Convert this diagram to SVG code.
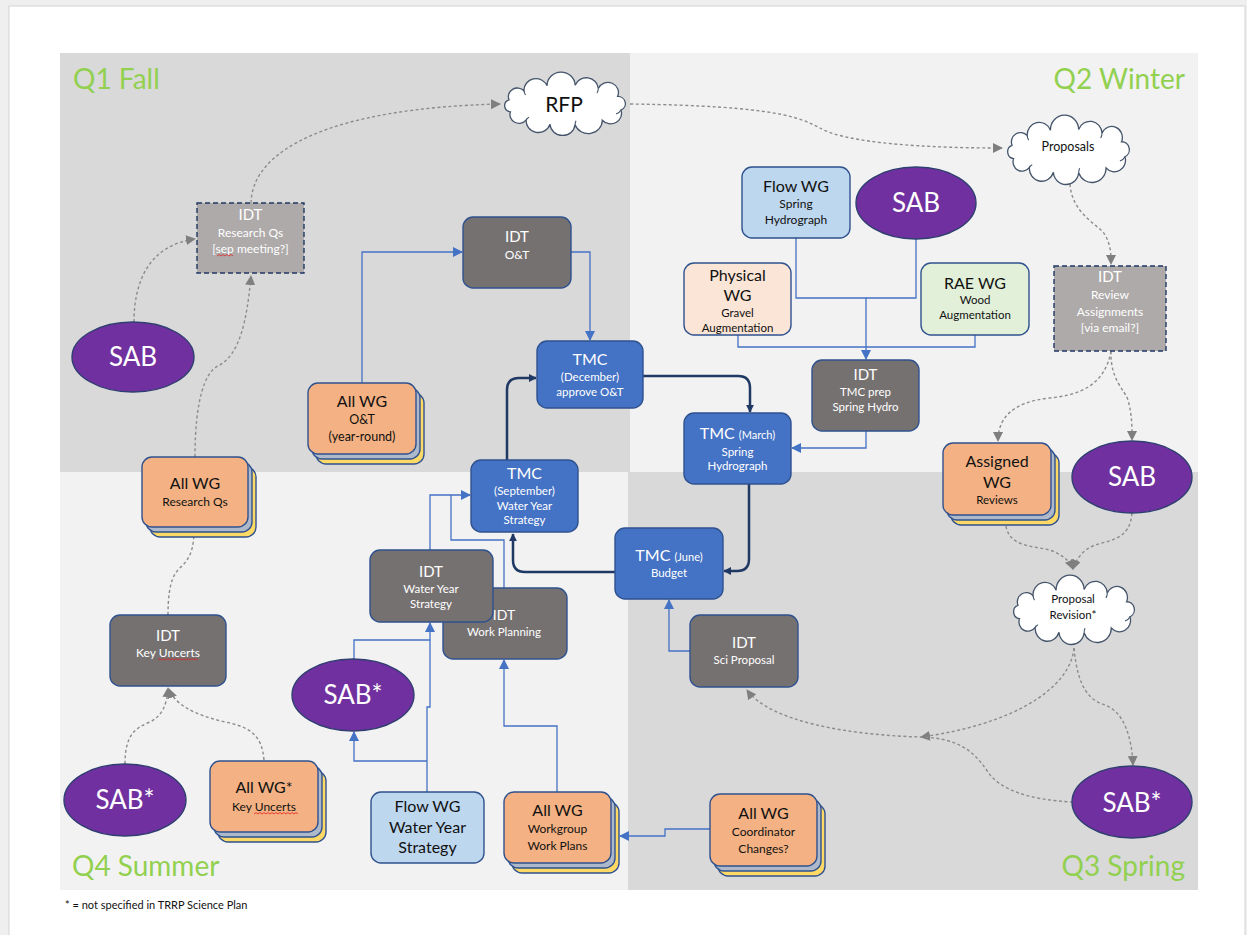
<svg xmlns="http://www.w3.org/2000/svg" xmlns:xlink="http://www.w3.org/1999/xlink" width="1247" height="935" viewBox="0 0 1247 935">
<style>
text{font-family:Lato,'Liberation Sans','DejaVu Sans',sans-serif;text-anchor:middle}
.box{stroke:#2f528f;stroke-width:1.4}
.idt{fill:#767171}
.tmc{fill:#4472c4}
.org{fill:#f4b183}
.mid{fill:#adb9ca}
.yel{fill:#ffd966}
.sab{fill:#7030a0;stroke:#2f3f70;stroke-width:1.4}
.dsh{fill:#aeaaaa;stroke:#203864;stroke-width:1.4;stroke-dasharray:5 3}
.w{fill:#ffffff}
.k{fill:#111111}
.q{fill:#92d050;font-size:28px;text-anchor:start}
.h{font-size:16px}
.s{font-size:12px}
.cg{fill:none;stroke:#8c8c8c;stroke-width:1.4;stroke-dasharray:3 2.5}
.cb{fill:none;stroke:#4472c4;stroke-width:1.3}
.cd{fill:none;stroke:#203864;stroke-width:2.5}
.sq{fill:none;stroke:#e02020;stroke-width:0.8}
</style>
<defs>
<marker id="ag" viewBox="0 0 10 10" refX="9" refY="5" markerWidth="10" markerHeight="10" markerUnits="userSpaceOnUse" orient="auto"><path d="M0,0 L10,5 L0,10 z" fill="#7f7f7f"/></marker>
<marker id="ab" viewBox="0 0 10 10" refX="9" refY="5" markerWidth="10" markerHeight="10" markerUnits="userSpaceOnUse" orient="auto"><path d="M0,0 L10,5 L0,10 z" fill="#4472c4"/></marker>
<marker id="ad" viewBox="0 0 10 10" refX="9" refY="5" markerWidth="8" markerHeight="8" markerUnits="userSpaceOnUse" orient="auto"><path d="M0,0 L10,5 L0,10 z" fill="#203864"/></marker>
<symbol id="cloud" viewBox="0 0 130 66" preserveAspectRatio="none" overflow="visible">
<path d="M10.5,41.7 A6.5,6.5 0 0 1 9,29.1 A9,9 0 0 1 24,19.7 A12,12 0 0 1 47.1,14.5 A14,14 0 0 1 75.1,13.8 A12,12 0 0 1 98.3,17.3 A10.5,10.5 0 0 1 117.6,25.6 A7.5,7.5 0 0 1 121,39.9 A11,11 0 0 1 102.3,50.6 A14,14 0 0 1 75.1,55.2 A12.6,12.6 0 0 1 50,54.8 A12.2,12.2 0 0 1 26.2,50.1 A9,9 0 0 1 10.5,41.7 Z" fill="#ffffff" stroke="#44546a" stroke-width="1.3" vector-effect="non-scaling-stroke"/>
<path d="M24,19.7 A9,9 0 0 0 25.5,24 M98.3,17.3 A10,10 0 0 1 97,22 M121,39.9 A8,8 0 0 1 116,44 M75.1,55.2 A12,12 0 0 1 76,51 M26.2,50.1 A10,10 0 0 1 29,47.5" fill="none" stroke="#44546a" stroke-width="1.1" vector-effect="non-scaling-stroke"/>
</symbol>
</defs>

<g id="background">
<rect x="0" y="0" width="1247" height="935" fill="#efefef"/>
<rect x="9" y="6" width="1236" height="935" fill="#ffffff" stroke="#d4d4d4" stroke-width="1"/>
<rect x="60" y="53" width="570" height="419" fill="#d9d9d9"/>
<rect x="630" y="53" width="568" height="419" fill="#f2f2f2"/>
<rect x="60" y="472" width="568" height="418" fill="#f2f2f2"/>
<rect x="628" y="472" width="570" height="418" fill="#d9d9d9"/>
<text class="q" x="73" y="89">Q1 Fall</text>
<text class="q" x="1185" y="89" style="text-anchor:end">Q2 Winter</text>
<text class="q" x="72" y="876">Q4 Summer</text>
<text class="q" x="1185" y="876" style="text-anchor:end">Q3 Spring</text>
<text x="65" y="909" style="text-anchor:start;font-size:11px" fill="#111">* = not specified in TRRP Science Plan</text>
</g>

<g id="connectors">
<!-- dashed gray -->
<path class="cg" d="M251,203 C252,150 330,108 500,104" marker-end="url(#ag)"/>
<path class="cg" d="M134,322 C134,280 150,245 195,239" marker-end="url(#ag)"/>
<path class="cg" d="M195,457 C195,400 205,372 218,366 C240,355 247,320 251,276" marker-end="url(#ag)"/>
<path class="cg" d="M630,104 C780,106 800,118 820,128 C840,140 900,148 1002,148" marker-end="url(#ag)"/>
<path class="cg" d="M1070,184 C1072,215 1100,225 1105,235 C1111,245 1111,255 1111,264" marker-end="url(#ag)"/>
<path class="cg" d="M1111,351 C1105,385 1080,395 1050,398 C1010,402 998,420 998,441" marker-end="url(#ag)"/>
<path class="cg" d="M1111,351 C1110,380 1125,390 1128,400 C1132,415 1132,425 1132,440" marker-end="url(#ag)"/>
<path class="cg" d="M1006,526 C1010,550 1040,545 1055,552 C1065,557 1070,562 1073,569" marker-end="url(#ag)"/>
<path class="cg" d="M1132,513 C1130,540 1110,540 1095,545 C1082,550 1076,560 1073,569" marker-end="url(#ag)"/>
<path class="cg" d="M1074,648 C1070,690 1010,725 921,737" marker-end="url(#ag)"/>
<path class="cg" d="M1073,802 C1030,800 1000,790 988,772 C972,748 955,738 920,737 C850,735 770,722 747,690" marker-end="url(#ag)"/>
<path class="cg" d="M1074,648 C1078,690 1090,700 1105,705 C1125,712 1132,740 1133,765" marker-end="url(#ag)"/>
<path class="cg" d="M125,764 C125,735 135,728 150,722 C162,716 167,705 168,688" marker-end="url(#ag)"/>
<path class="cg" d="M264,760 C262,735 250,727 225,722 C195,715 175,705 169,689" marker-end="url(#ag)"/>
<path class="cg" d="M168,615 C168,580 175,572 182,566 C192,556 194,545 194,528" marker-end="url(#ag)"/>
<!-- blue -->
<path class="cb" d="M362,383 V252 H462" marker-end="url(#ab)"/>
<path class="cb" d="M571,252 H590 V340" marker-end="url(#ab)"/>
<path class="cb" d="M796,238 V298 H866 V359" marker-end="url(#ab)"/>
<path class="cb" d="M916,239 V298 H866"/>
<path class="cb" d="M738,335 V347 H866"/>
<path class="cb" d="M975,335 V347 H866"/>
<path class="cb" d="M866,431 V448 H792" marker-end="url(#ab)"/>
<path class="cb" d="M690,651 H669 V600" marker-end="url(#ab)"/>
<path class="cb" d="M710,829 H665 V836 H620" marker-end="url(#ab)"/>
<path class="cb" d="M557,792 V726 H504 V660" marker-end="url(#ab)"/>
<path class="cb" d="M427,792 V707 H430 V623" marker-end="url(#ab)"/>
<path class="cb" d="M427,761 H354 V732" marker-end="url(#ab)"/>
<path class="cb" d="M354,659 V640 H430"/>
<path class="cb" d="M430,550 V495 H470" marker-end="url(#ab)"/>
<path class="cb" d="M504,588 V540 H451 V495"/>
<!-- dark -->
<path class="cd" d="M507,460 V390 Q507,378 519,378 H536" marker-end="url(#ad)"/>
<path class="cd" d="M643,376 H738 Q750,376 750,388 V412" marker-end="url(#ad)"/>
<path class="cd" d="M749,484 V559 Q749,571 737,571 H724" marker-end="url(#ad)"/>
<path class="cd" d="M615,572 H525 Q513,572 513,560 V534" marker-end="url(#ad)"/>
</g>

<g id="rfp">
<use xlink:href="#cloud" href="#cloud" x="500" y="72" width="130" height="63"/>
<text class="k" x="564" y="112" style="font-size:21px">RFP</text>
</g>

<g id="proposals">
<use xlink:href="#cloud" href="#cloud" x="1003" y="115" width="131" height="69"/>
<text class="k" x="1068" y="151" style="font-size:12.5px">Proposals</text>
</g>

<g id="proposal-revision">
<use xlink:href="#cloud" href="#cloud" x="1009" y="575" width="130" height="69"/>
<text class="k" x="1073" y="603" style="font-size:11.5px">Proposal</text>
<text class="k" x="1073" y="619" style="font-size:11.5px">Revision*</text>
</g>

<g id="idt-research-qs">
<rect class="dsh" x="197" y="203" width="107" height="70"/>
<text class="w" x="250.5" y="220" style="font-size:15px">IDT</text>
<text class="w" x="250.5" y="237" style="font-size:12px">Research Qs</text>
<text class="w" x="250.5" y="253" style="font-size:12px">[sep meeting?]</text>
<path class="sq" d="M217,256 l2,-1.5 l2,1.5 l2,-1.5 l2,1.5 l2,-1.5 l2,1.5 l2,-1.5 l2,1.5"/>
</g>

<g id="sab-q1">
<ellipse class="sab" cx="133" cy="357" rx="61" ry="35"/>
<text class="w" x="133" y="366" style="font-size:26px">SAB</text>
</g>

<g id="idt-ot">
<rect class="box idt" x="463" y="217" width="108" height="71" rx="10"/>
<text class="w" x="517" y="242" style="font-size:15px">IDT</text>
<text class="w" x="517" y="259" style="font-size:12px">O&amp;T</text>
</g>

<g id="allwg-ot">
<rect class="box yel" x="316" y="393" width="108" height="71" rx="10"/>
<rect class="box mid" x="312" y="388" width="108" height="71" rx="10"/>
<rect class="box org" x="308" y="383" width="108" height="71" rx="10"/>
<text class="k h" x="362" y="407">All WG</text>
<text class="k" x="362" y="424" style="font-size:12.5px">O&amp;T</text>
<text class="k" x="362" y="441" style="font-size:12.5px">(year-round)</text>
</g>

<g id="tmc-december">
<rect class="box tmc" x="537" y="341" width="106" height="67" rx="10"/>
<text class="w h" x="590" y="365">TMC</text>
<text class="w" x="590" y="381" style="font-size:11.5px">(December)</text>
<text class="w" x="590" y="396" style="font-size:11.5px">approve O&amp;T</text>
</g>

<g id="flowwg-spring">
<rect class="box" fill="#bdd7ee" x="742" y="167" width="108" height="71" rx="10"/>
<text class="k h" x="796" y="192">Flow WG</text>
<text class="k s" x="796" y="208">Spring</text>
<text class="k s" x="796" y="224">Hydrograph</text>
</g>

<g id="sab-q2">
<ellipse class="sab" cx="916" cy="203" rx="60" ry="36"/>
<text class="w" x="916" y="212" style="font-size:26px">SAB</text>
</g>

<g id="physical-wg">
<rect class="box" fill="#fbe5d6" x="684" y="263" width="107" height="72" rx="10"/>
<text class="k h" x="737.5" y="281">Physical</text>
<text class="k h" x="737.5" y="301">WG</text>
<text class="k" x="737.5" y="317" style="font-size:11.5px">Gravel</text>
<text class="k" x="737.5" y="332" style="font-size:11.5px">Augmentation</text>
</g>

<g id="rae-wg">
<rect class="box" fill="#e2f0d9" x="921" y="263" width="108" height="72" rx="10"/>
<text class="k h" x="975" y="289">RAE WG</text>
<text class="k" x="975" y="304" style="font-size:11.5px">Wood</text>
<text class="k" x="975" y="319" style="font-size:11.5px">Augmentation</text>
</g>

<g id="idt-review">
<rect class="dsh" x="1054" y="266" width="112" height="85"/>
<text class="w" x="1110" y="282" style="font-size:15px">IDT</text>
<text class="w" x="1110" y="299" style="font-size:12px">Review</text>
<text class="w" x="1110" y="316" style="font-size:12px">Assignments</text>
<text class="w" x="1110" y="332" style="font-size:12px">[via email?]</text>
</g>

<g id="idt-tmc-prep">
<rect class="box idt" x="812" y="360" width="107" height="71" rx="10"/>
<text class="w" x="865.5" y="380" style="font-size:15px">IDT</text>
<text class="w" x="865.5" y="396" style="font-size:11.5px">TMC prep</text>
<text class="w" x="865.5" y="411" style="font-size:11.5px">Spring Hydro</text>
</g>

<g id="tmc-march">
<rect class="box tmc" x="684" y="413" width="107" height="71" rx="10"/>
<text class="w" x="737.5" y="439"><tspan style="font-size:16px">TMC </tspan><tspan style="font-size:11px">(March)</tspan></text>
<text class="w" x="737.5" y="456" style="font-size:11.5px">Spring</text>
<text class="w" x="737.5" y="470" style="font-size:11.5px">Hydrograph</text>
</g>

<g id="assigned-wg">
<rect class="box yel" x="951" y="453" width="108" height="72" rx="10"/>
<rect class="box mid" x="947" y="448" width="108" height="72" rx="10"/>
<rect class="box org" x="943" y="443" width="108" height="72" rx="10"/>
<text class="k h" x="997" y="467">Assigned</text>
<text class="k h" x="997" y="488">WG</text>
<text class="k" x="997" y="504" style="font-size:11.5px">Reviews</text>
</g>

<g id="sab-q3">
<ellipse class="sab" cx="1132" cy="477" rx="60" ry="36"/>
<text class="w" x="1132" y="486" style="font-size:26px">SAB</text>
</g>

<g id="allwg-research-qs">
<rect class="box yel" x="150" y="467" width="106" height="70" rx="10"/>
<rect class="box mid" x="146" y="462" width="106" height="70" rx="10"/>
<rect class="box org" x="142" y="457" width="106" height="70" rx="10"/>
<text class="k h" x="195" y="489">All WG</text>
<text class="k" x="195" y="506" style="font-size:12px">Research Qs</text>
</g>

<g id="tmc-september">
<rect class="box tmc" x="471" y="460" width="107" height="72" rx="10"/>
<text class="w h" x="524.5" y="479">TMC</text>
<text class="w" x="524.5" y="495" style="font-size:11.5px">(September)</text>
<text class="w" x="524.5" y="510" style="font-size:11.5px">Water Year</text>
<text class="w" x="524.5" y="524" style="font-size:11.5px">Strategy</text>
</g>

<g id="tmc-june">
<rect class="box tmc" x="615" y="528" width="108" height="71" rx="10"/>
<text class="w" x="669" y="561"><tspan style="font-size:16px">TMC </tspan><tspan style="font-size:11px">(June)</tspan></text>
<text class="w" x="669" y="577" style="font-size:11.5px">Budget</text>
</g>

<g id="idt-work-planning">
<rect class="box idt" x="443" y="588" width="124" height="71" rx="10"/>
<text class="w" x="504" y="620" style="font-size:14px">IDT</text>
<text class="w" x="504" y="636" style="font-size:11.5px">Work Planning</text>
</g>

<g id="idt-water-year">
<rect class="box idt" x="370" y="550" width="123" height="72" rx="10"/>
<text class="w" x="431" y="577" style="font-size:15px">IDT</text>
<text class="w" x="431" y="593" style="font-size:11.5px">Water Year</text>
<text class="w" x="431" y="608" style="font-size:11.5px">Strategy</text>
</g>

<g id="idt-sci-proposal">
<rect class="box idt" x="690" y="615" width="108" height="72" rx="10"/>
<text class="w" x="744" y="648" style="font-size:15px">IDT</text>
<text class="w" x="744" y="664" style="font-size:11.5px">Sci Proposal</text>
</g>

<g id="sab-star-q3">
<ellipse class="sab" cx="1132" cy="802" rx="60" ry="36"/>
<text class="w" x="1132" y="812" style="font-size:26px">SAB*</text>
</g>

<g id="allwg-coordinator">
<rect class="box yel" x="718" y="804" width="107" height="72" rx="10"/>
<rect class="box mid" x="714" y="799" width="107" height="72" rx="10"/>
<rect class="box org" x="710" y="794" width="107" height="72" rx="10"/>
<text class="k h" x="763.5" y="819">All WG</text>
<text class="k s" x="763.5" y="836">Coordinator</text>
<text class="k s" x="763.5" y="853">Changes?</text>
</g>

<g id="allwg-work-plans">
<rect class="box yel" x="512" y="802" width="107" height="71" rx="10"/>
<rect class="box mid" x="508" y="797" width="107" height="71" rx="10"/>
<rect class="box org" x="504" y="792" width="107" height="71" rx="10"/>
<text class="k h" x="557.5" y="816">All WG</text>
<text class="k s" x="557.5" y="833">Workgroup</text>
<text class="k s" x="557.5" y="850">Work Plans</text>
</g>

<g id="flowwg-water-year">
<rect class="box" fill="#bdd7ee" x="371" y="792" width="113" height="71" rx="10"/>
<text class="k h" x="427.5" y="812">Flow WG</text>
<text class="k h" x="427.5" y="833">Water Year</text>
<text class="k h" x="427.5" y="853">Strategy</text>
</g>

<g id="sab-star-mid">
<ellipse class="sab" cx="353" cy="695" rx="61" ry="36"/>
<text class="w" x="353" y="704" style="font-size:26px">SAB*</text>
</g>

<g id="idt-key-uncerts">
<rect class="box idt" x="110" y="615" width="116" height="71" rx="10"/>
<text class="w" x="168" y="641" style="font-size:15px">IDT</text>
<text class="w" x="168" y="657" style="font-size:12px">Key Uncerts</text>
<path class="sq" d="M158,660 l2,-1.5 l2,1.5 l2,-1.5 l2,1.5 l2,-1.5 l2,1.5 l2,-1.5 l2,1.5 l2,-1.5 l2,1.5 l2,-1.5 l2,1.5 l2,-1.5 l2,1.5 l2,-1.5 l2,1.5 l2,-1.5 l2,1.5 l2,-1.5 l2,1.5"/>
</g>

<g id="sab-star-left">
<ellipse class="sab" cx="125" cy="800" rx="61" ry="36"/>
<text class="w" x="125" y="809" style="font-size:26px">SAB*</text>
</g>

<g id="allwg-key-uncerts">
<rect class="box yel" x="218" y="771" width="108" height="71" rx="10"/>
<rect class="box mid" x="214" y="766" width="108" height="71" rx="10"/>
<rect class="box org" x="210" y="761" width="108" height="71" rx="10"/>
<text class="k h" x="264" y="793">All WG*</text>
<text class="k" x="264" y="811" style="font-size:12px">Key Uncerts</text>
<path class="sq" d="M254,814 l2,-1.5 l2,1.5 l2,-1.5 l2,1.5 l2,-1.5 l2,1.5 l2,-1.5 l2,1.5 l2,-1.5 l2,1.5 l2,-1.5 l2,1.5 l2,-1.5 l2,1.5 l2,-1.5 l2,1.5 l2,-1.5 l2,1.5 l2,-1.5 l2,1.5 l2,-1.5 l2,1.5"/>
</g>
</svg>
